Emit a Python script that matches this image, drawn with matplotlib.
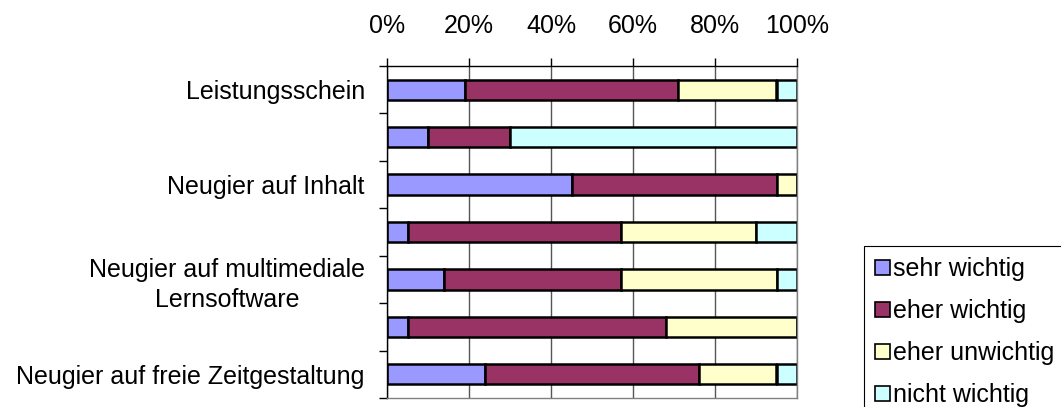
import numpy as np
import matplotlib.pyplot as plt
from matplotlib.ticker import PercentFormatter

plt.rcParams['font.family'] = ['Liberation Sans', 'DejaVu Sans']

# Survey: how important were these reasons (shares in %)
categories = ['Leistungsschein', '', 'Neugier auf Inhalt', '',
              'Neugier auf multimediale\nLernsoftware', '',
              'Neugier auf freie Zeitgestaltung']
sehr_wichtig = [19, 10, 45, 5, 14, 5, 24]
eher_wichtig = [52, 20, 50, 52, 43, 63, 52]
eher_unwichtig = [24, 0, 5, 33, 38, 32, 19]
nicht_wichtig = [5, 70, 0, 10, 5, 0, 5]

series = [
    ('sehr wichtig', sehr_wichtig, '#9999FF'),
    ('eher wichtig', eher_wichtig, '#993366'),
    ('eher unwichtig', eher_unwichtig, '#FFFFCC'),
    ('nicht wichtig', nicht_wichtig, '#CCFFFF'),
]

fs = 18
W, H = 1061, 407
fig = plt.figure(figsize=(W / 100, H / 100), dpi=100)
ax = fig.add_axes([387 / W, 1 - 398 / H, 410 / W, 332 / H])

y = np.arange(len(categories))
left = np.zeros(len(categories))
for name, vals, col in series:
    vals = np.array(vals, dtype=float)
    ax.barh(y, vals, left=left, height=0.43, color=col, edgecolor='black',
            linewidth=1.8, label=name)
    left += vals

ax.set_xlim(0, 100)
ax.set_ylim(len(categories) - 0.5, -0.5)

# percent axis on top
ax.xaxis.tick_top()
ax.set_xticks(np.arange(0, 101, 20))
ax.xaxis.set_major_formatter(PercentFormatter(xmax=100, decimals=0))
ax.tick_params(axis='x', length=6, width=1, pad=14, labelsize=fs, color='black')
ax.grid(axis='x', color='#555555', linewidth=1)
ax.set_axisbelow(True)

# category labels centred, tick marks on the boundaries
ax.set_yticks(y)
ax.set_yticklabels(categories, fontsize=fs, multialignment='center',
                   linespacing=1.3)
ax.set_yticks(np.arange(-0.5, len(categories)), minor=True)
ax.tick_params(axis='y', which='major', length=0, pad=16)
ax.tick_params(axis='y', which='minor', length=6, width=1, color='black')

ax.spines['left'].set_color('black')
ax.spines['top'].set_color('black')
ax.spines['right'].set_color('#808080')
ax.spines['bottom'].set_color('#808080')
for s in ax.spines.values():
    s.set_linewidth(1)

handles, labels = ax.get_legend_handles_labels()
leg = fig.legend(handles, labels, loc='upper left',
                 bbox_to_anchor=(864 / W, 1 - 246 / H), borderaxespad=0,
                 fontsize=fs, frameon=True, fancybox=False, framealpha=1,
                 edgecolor='black', handlelength=0.6, handleheight=0.6,
                 handletextpad=0.12, labelspacing=0.72, borderpad=0.45)
leg.get_frame().set_linewidth(0.8)
for p in leg.get_patches():
    p.set_linewidth(1.2)

fig.savefig('out.png', dpi=100)
